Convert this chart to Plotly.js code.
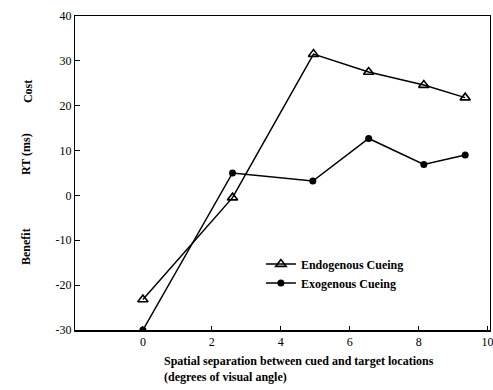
<!DOCTYPE html>
<html>
<head>
<meta charset="utf-8">
<script src="https://cdn.plot.ly/plotly-3.0.1.min.js"></script>
<style>html,body{margin:0;padding:0;background:#fff;}#chart{width:493px;height:390px;}</style>
</head>
<body>
<div id="chart"></div>
<script>
const endoX = [0, 2.6, 4.95, 6.55, 8.15, 9.35];
const endoY = [-23.2, -0.5, 31.5, 27.5, 24.6, 21.8];
const exoX = [0, 2.6, 4.93, 6.55, 8.15, 9.35];
const exoY = [-30, 5.0, 3.2, 12.7, 6.9, 9.0];
const xTicks = [0, 2, 4, 6, 8, 10];
const yTicks = [-30, -20, -10, 0, 10, 20, 30, 40];
const seriesNames = ["Endogenous Cueing", "Exogenous Cueing"];

const serif = "Liberation Serif, Times New Roman, serif";

const traces = [
  {x: endoX, y: endoY, name: "<b>" + seriesNames[0] + "</b>", mode: "lines+markers",
   line: {color: "#000", width: 1.5},
   marker: {symbol: "triangle-up-open", size: 9, color: "#000", line: {width: 1.6, color: "#000"}}},
  {x: exoX, y: exoY, name: "<b>" + seriesNames[1] + "</b>", mode: "lines+markers",
   line: {color: "#000", width: 1.5},
   marker: {symbol: "circle", size: 7, color: "#000"}}
];

const layout = {
  width: 493, height: 390,
  margin: {l: 75, r: 3, t: 16, b: 60},
  paper_bgcolor: "#fff", plot_bgcolor: "#fff",
  font: {family: serif, size: 12, color: "#000"},
  showlegend: true,
  legend: {x: 0.448, y: 0.256, xanchor: "left", yanchor: "top",
           bgcolor: "rgba(0,0,0,0)", font: {family: serif, size: 12, color: "#000"},
           tracegroupgap: 0},
  xaxis: {range: [-1.97, 10.07], tickvals: xTicks, ticktext: xTicks.map(String),
          showgrid: false, zeroline: false, showline: true, mirror: true,
          linecolor: "#000", linewidth: 1.5, ticks: "inside", ticklen: 4, tickcolor: "#000",
          ticklabeloverflow: "allow",
          tickfont: {family: serif, size: 12}},
  yaxis: {range: [-30, 40], tickvals: yTicks, ticktext: yTicks.map(String),
          showgrid: false, zeroline: false, showline: true, mirror: true,
          linecolor: "#000", linewidth: 1, ticks: "inside", ticklen: 5, tickcolor: "#000",
          tickfont: {family: serif, size: 12}},
  annotations: [
    {text: "<b>Spatial separation between cued and target locations</b><br><b>(degrees of visual angle)</b>",
     xref: "paper", yref: "paper", x: 0.2096, y: 0, xanchor: "left", yanchor: "top",
     yshift: -22, align: "left", showarrow: false, font: {family: serif, size: 12}},
    {text: "<b>RT (ms)</b>", xref: "paper", yref: "paper", x: -0.118, y: (330 - 154) / 314,
     xanchor: "center", yanchor: "middle", textangle: -90, showarrow: false,
     font: {family: serif, size: 12}},
    {text: "<b>Cost</b>", xref: "paper", yref: "paper", x: -0.113, y: (330 - 92) / 314,
     xanchor: "center", yanchor: "middle", textangle: -90, showarrow: false,
     font: {family: serif, size: 12}},
    {text: "<b>Benefit</b>", xref: "paper", yref: "paper", x: -0.118, y: (330 - 247) / 314,
     xanchor: "center", yanchor: "middle", textangle: -90, showarrow: false,
     font: {family: serif, size: 12}}
  ]
};

Plotly.newPlot("chart", traces, layout, {displayModeBar: false, staticPlot: true});
</script>
</body>
</html>
